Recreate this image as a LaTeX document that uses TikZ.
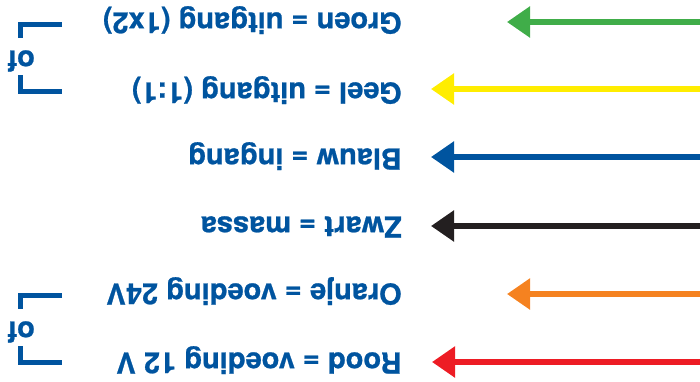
\documentclass[tikz,border=0pt]{standalone}
\usepackage{fontspec}
\setmainfont{TeX Gyre Heros}[BoldFeatures={FakeBold=0.8}]
\usetikzlibrary{arrows.meta}
\definecolor{txtblue}{RGB}{0,84,159}
\definecolor{wgreen}{RGB}{64,173,73}
\definecolor{wyellow}{RGB}{255,237,0}
\definecolor{wblue}{RGB}{0,84,159}
\definecolor{wblack}{RGB}{35,31,32}
\definecolor{worange}{RGB}{245,130,32}
\definecolor{wred}{RGB}{237,28,36}
\begin{document}
\begin{tikzpicture}[x=1pt,y=-1pt,
  lbl/.style={rotate=180, anchor=base west, inner sep=0pt, text=txtblue,
    font=\fontsize{29}{31}\selectfont\bfseries},
  oflbl/.style={rotate=180, anchor=base, inner sep=0pt, text=txtblue,
    font=\fontsize{29}{31}\selectfont\bfseries},
  arr/.style={line width=5.5pt, -{Triangle[length=23pt,width=30pt]}},
  brk/.style={draw=txtblue, line width=5pt}]
\useasboundingbox (0,0) rectangle (700,381);

% labels
\node[lbl] (groen)  at (402,12.5)  {Groen = uitgang (1x2)};
\node[lbl] (geel)   at (402,82.5)  {Geel = uitgang (1:1)};
\node[lbl] (blauw)  at (402,148.5) {Blauw = ingang};
\node[lbl] (zwart)  at (402,216.5) {Zwart = massa};
\node[lbl] (oranje) at (402,283.5) {Oranje = voeding 24V};
\node[lbl] (rood)   at (402,352.5) {Rood = voeding 12 V};

% arrows
\coordinate (g1) at (700,22);  \coordinate (g2) at (507,22);
\coordinate (y1) at (700,89);  \coordinate (y2) at (431,89);
\coordinate (b1) at (700,157); \coordinate (b2) at (431,157);
\coordinate (k1) at (700,226); \coordinate (k2) at (431,226);
\coordinate (o1) at (700,294); \coordinate (o2) at (507,294);
\coordinate (r1) at (700,362); \coordinate (r2) at (432,362);
\draw[arr, wgreen]  (g1) -- (g2);
\draw[arr, wyellow] (y1) -- (y2);
\draw[arr, wblue]   (b1) -- (b2);
\draw[arr, wblack]  (k1) -- (k2);
\draw[arr, worange] (o1) -- (o2);
\draw[arr, wred]    (r1) -- (r2);

% brackets
\draw[brk] (62,24) -- (20,24) -- (20,38);
\draw[brk] (20,75) -- (20,91) -- (62,91);
\node[oflbl] (of1) at (21,50.5) {of};
\draw[brk] (62,295) -- (20,295) -- (20,309);
\draw[brk] (20,346) -- (20,362) -- (62,362);
\node[oflbl] (of2) at (21,321.5) {of};
\end{tikzpicture}
\end{document}
